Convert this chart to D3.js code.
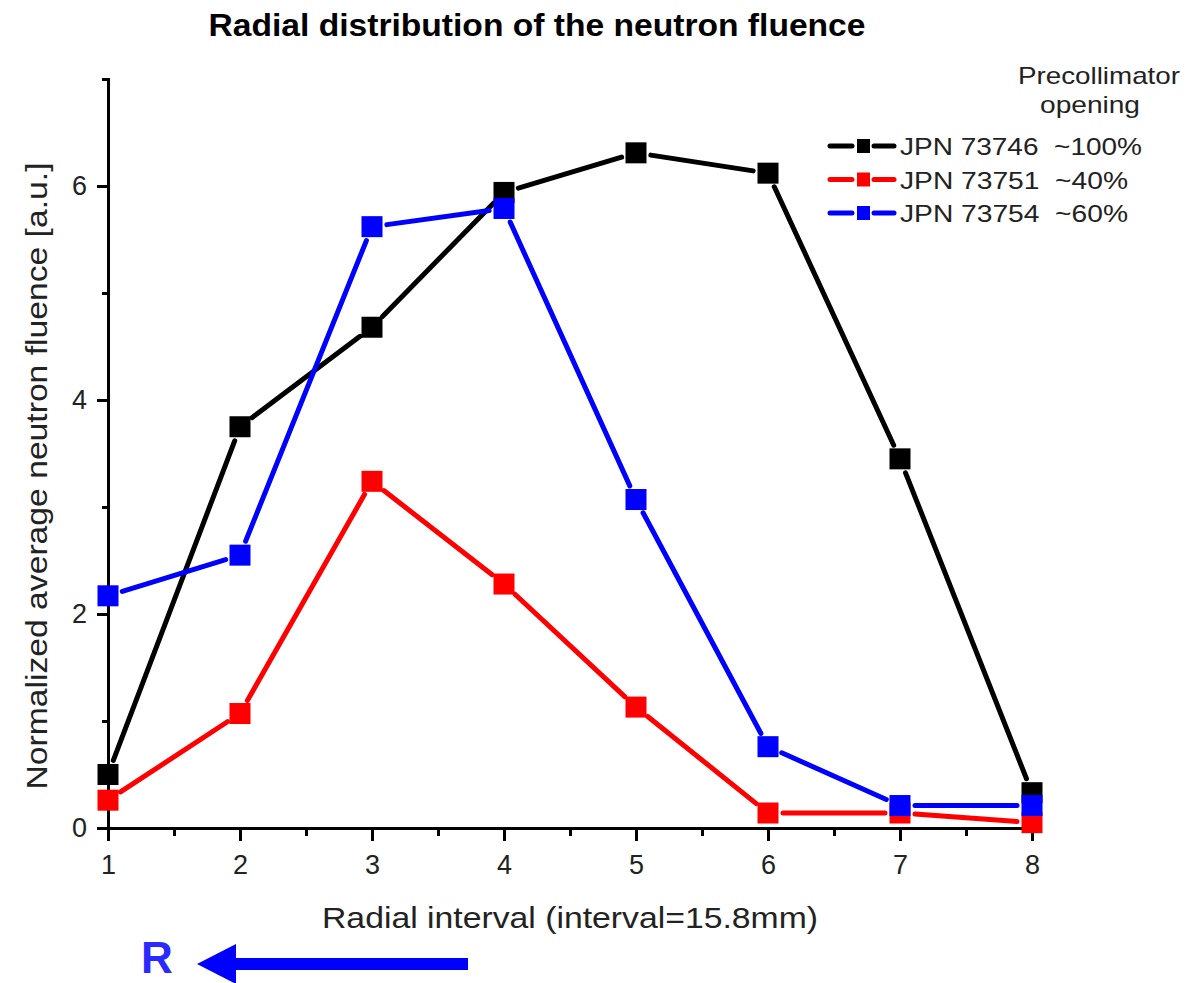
<!DOCTYPE html>
<html>
<head>
<meta charset="utf-8">
<script src="https://cdn.jsdelivr.net/npm/d3@7"></script>
<style>
  body { margin: 0; background: #fff; }
  svg { display: block; font-family: "Liberation Sans", Arial, sans-serif; }
  .axis path, .axis line { stroke: #000; stroke-width: 3px; }
</style>
</head>
<body>
<div id="chart"></div>
<script>
// data
const intervals = [1, 2, 3, 4, 5, 6, 7, 8];
const jpn73746 = [0.50, 3.75, 4.68, 5.94, 6.31, 6.12, 3.45, 0.33];
const jpn73751 = [0.26, 1.07, 3.24, 2.28, 1.13, 0.14, 0.14, 0.05];
const jpn73754 = [2.17, 2.55, 5.62, 5.79, 3.07, 0.76, 0.21, 0.21];
const seriesNames = ['JPN 73746  ~100%', 'JPN 73751  ~40%', 'JPN 73754  ~60%'];
const seriesColors = ['#000000', '#ff0000', '#0000ff'];
const xMajor = [1, 2, 3, 4, 5, 6, 7, 8];
const xMinor = [1.5, 2.5, 3.5, 4.5, 5.5, 6.5, 7.5];
const yMajor = [0, 2, 4, 6];
const yMinor = [1, 3, 5, 7];

const W = 1195, H = 983;
const margin = { top: 79, right: 163, bottom: 155, left: 108 };

const svg = d3.select('#chart').append('svg')
  .attr('width', W)
  .attr('height', H);

const x = d3.scaleLinear().domain([1, 8]).range([margin.left, W - margin.right]);
const y = d3.scaleLinear().domain([0, 7]).range([H - margin.bottom, margin.top]);

// title
svg.append('text')
  .attr('x', 537).attr('y', 36)
  .attr('text-anchor', 'middle')
  .style('font-size', '31px').style('font-weight', 'bold')
  .attr('textLength', 657).attr('lengthAdjust', 'spacingAndGlyphs')
  .text('Radial distribution of the neutron fluence');

// axes
const y0 = y(0);
svg.append('g').attr('class', 'axis')
  .attr('transform', `translate(0,${y0})`)
  .call(d3.axisBottom(x).tickValues(xMinor).tickSize(8).tickSizeOuter(0).tickFormat(''));
svg.append('g').attr('class', 'axis')
  .attr('transform', `translate(0,${y0})`)
  .call(d3.axisBottom(x).tickValues(xMajor).tickSize(13).tickSizeOuter(0).tickPadding(14).tickFormat(d3.format('d')));
svg.append('g').attr('class', 'axis')
  .attr('transform', `translate(${x(1)},0)`)
  .call(d3.axisLeft(y).tickValues(yMinor).tickSize(6).tickSizeOuter(0).tickFormat(''));
svg.append('g').attr('class', 'axis')
  .attr('transform', `translate(${x(1)},0)`)
  .call(d3.axisLeft(y).tickValues(yMajor).tickSize(11).tickSizeOuter(0).tickPadding(10).tickFormat(d3.format('d')));
svg.selectAll('.axis .domain').attr('stroke-linecap', 'square');
svg.selectAll('.axis text')
  .attr('font-size', 27)
  .style('font-size', '27px')
  .style('font-family', '"Liberation Sans", Arial, sans-serif')
  .attr('fill', '#222');

// axis labels
svg.append('text')
  .attr('x', 570).attr('y', 928)
  .attr('text-anchor', 'middle')
  .style('font-size', '29px').style('fill', '#222')
  .attr('textLength', 496).attr('lengthAdjust', 'spacingAndGlyphs')
  .text('Radial interval (interval=15.8mm)');
svg.append('text')
  .attr('transform', 'translate(47,476) rotate(-90)')
  .attr('text-anchor', 'middle')
  .style('font-size', '30px').style('fill', '#222')
  .attr('textLength', 627).attr('lengthAdjust', 'spacingAndGlyphs')
  .text('Normalized average neutron fluence [a.u.]');

// series: segments with gaps around markers, origin-style
const allSeries = [jpn73746, jpn73751, jpn73754];
const gap = 15;
const marker = 21;

allSeries.forEach((vals, si) => {
  const pts = intervals.map((d, i) => [x(d), y(vals[i])]);
  const segs = d3.pairs(pts).map(([a, b]) => {
    const dx = b[0] - a[0], dy = b[1] - a[1];
    const len = Math.hypot(dx, dy);
    const ux = dx / len, uy = dy / len;
    return [a[0] + ux * gap, a[1] + uy * gap, b[0] - ux * gap, b[1] - uy * gap];
  });
  const g = svg.append('g');
  g.selectAll('line').data(segs).enter().append('line')
    .attr('x1', d => d[0]).attr('y1', d => d[1])
    .attr('x2', d => d[2]).attr('y2', d => d[3])
    .attr('stroke', seriesColors[si])
    .attr('stroke-width', 5)
    .attr('stroke-linecap', 'round');
  g.selectAll('rect').data(pts).enter().append('rect')
    .attr('x', d => d[0] - marker / 2).attr('y', d => d[1] - marker / 2)
    .attr('width', marker).attr('height', marker)
    .attr('fill', seriesColors[si]);
});

// legend
const leg = svg.append('g');
leg.append('text').attr('x', 1180).attr('y', 84).attr('text-anchor', 'end')
  .style('font-size', '24px').style('fill', '#222')
  .attr('textLength', 162).attr('lengthAdjust', 'spacingAndGlyphs')
  .text('Precollimator');
leg.append('text').attr('x', 1140).attr('y', 113).attr('text-anchor', 'end')
  .style('font-size', '24px').style('fill', '#222')
  .attr('textLength', 100).attr('lengthAdjust', 'spacingAndGlyphs')
  .text('opening');
const legWidths = [242, 228, 228];
seriesNames.forEach((name, i) => {
  const ly = 146 + i * 33.5;
  const c = seriesColors[i];
  leg.append('line').attr('x1', 830).attr('x2', 852).attr('y1', ly).attr('y2', ly)
    .attr('stroke', c).attr('stroke-width', 5).attr('stroke-linecap', 'round');
  leg.append('line').attr('x1', 874).attr('x2', 894).attr('y1', ly).attr('y2', ly)
    .attr('stroke', c).attr('stroke-width', 5).attr('stroke-linecap', 'round');
  leg.append('rect').attr('x', 857).attr('y', ly - 7).attr('width', 13).attr('height', 14).attr('fill', c);
  leg.append('text').attr('x', 900).attr('y', ly + 9)
    .style('font-size', '24px').style('fill', '#222').style('white-space', 'pre')
    .attr('xml:space', 'preserve')
    .attr('textLength', legWidths[i]).attr('lengthAdjust', 'spacingAndGlyphs')
    .text(name);
});

// direction arrow with R
svg.append('text')
  .attr('x', 157).attr('y', 973)
  .attr('text-anchor', 'middle')
  .style('font-size', '44px').style('font-weight', 'bold').style('fill', '#2a2aff')
  .text('R');
svg.append('line')
  .attr('x1', 468).attr('x2', 230).attr('y1', 964).attr('y2', 964)
  .attr('stroke', '#0000ff').attr('stroke-width', 12);
svg.append('path')
  .attr('d', 'M197,964 L236,944 L236,984 Z')
  .attr('fill', '#0000ff');
</script>
</body>
</html>
